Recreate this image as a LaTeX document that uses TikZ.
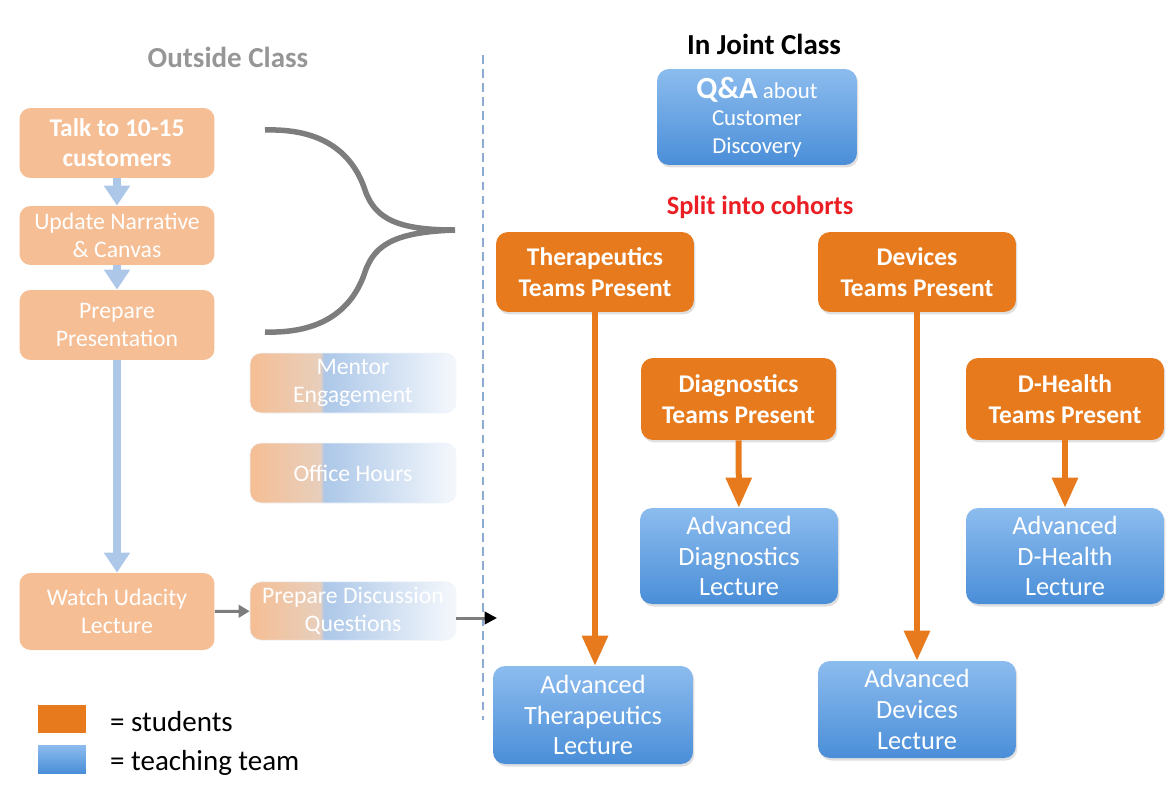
\documentclass[tikz,border=0pt]{standalone}
\usepackage{fontspec}
\setmainfont{Carlito}
\usetikzlibrary{arrows.meta,shadows}

\definecolor{stuorange}{RGB}{230,122,28}
\definecolor{paleorange}{RGB}{245,190,148}
\definecolor{teamtop}{RGB}{140,188,238}
\definecolor{teambot}{RGB}{74,142,216}
\definecolor{paleblue}{RGB}{172,199,232}
\definecolor{curvegray}{RGB}{125,125,125}
\definecolor{dashblue}{RGB}{140,170,210}
\definecolor{titlegray}{RGB}{150,150,150}
\definecolor{splitred}{RGB}{235,30,35}

\pgfdeclarehorizontalshading{mixshade}{100bp}{color(0bp)=(paleorange); color(25bp)=(paleorange); color(42bp)=(paleorange!75!gray!60); color(43bp)=(paleblue); color(75bp)=(white!88!paleblue); color(100bp)=(white!88!paleblue)}

\tikzset{
  stud/.style={rounded corners=0.24cm, fill=stuorange, text=white, align=center,
    font=\fontsize{14.5}{18}\selectfont\bfseries,
    drop shadow={opacity=0.25, shadow xshift=0.03cm, shadow yshift=-0.05cm}},
  team/.style={rounded corners=0.24cm, top color=teamtop, bottom color=teambot, text=white, align=center,
    font=\fontsize{15}{17.6}\selectfont,
    drop shadow={opacity=0.25, shadow xshift=0.03cm, shadow yshift=-0.05cm}},
  pale/.style={rounded corners=0.22cm, fill=paleorange, text=white, align=center,
    font=\fontsize{13.5}{16}\selectfont},
  mixbox/.style={rounded corners=0.22cm, shading=mixshade, draw=white!80!paleblue, text=white, align=center,
    font=\fontsize{13.5}{15.5}\selectfont},
  bluestep/.style={draw=paleblue, line width=0.16cm, -{Triangle[width=0.5cm, length=0.4cm]}},
  orangestep/.style={draw=stuorange, line width=0.12cm, -{Triangle[width=0.5cm, length=0.6cm]}},
  graystep/.style={draw=curvegray, line width=0.06cm, -{Triangle[width=0.25cm, length=0.22cm]}}
}

\begin{document}
\begin{tikzpicture}[x=0.02cm, y=-0.02cm]
  \useasboundingbox (0,0) rectangle (1166,798);

  % Titles
  \node[text=titlegray, font=\fontsize{16.5}{18}\selectfont\bfseries] (outside) at (228,57) {Outside Class};
  \node[font=\fontsize{16.5}{18}\selectfont\bfseries] (joint) at (764,44) {In Joint Class};
  \node[text=splitred, font=\fontsize{15}{18}\selectfont\bfseries] (split) at (760,207) {Split into cohorts};

  % Divider
  \draw[dashblue, line width=1.5pt, dash pattern=on 5pt off 3pt] (483,55) -- (483,720);

  % Outside class steps
  \node[pale, minimum width=3.9cm, minimum height=1.4cm, font=\fontsize{14.5}{17}\selectfont\bfseries] (talk) at (117,143) {Talk to 10-15\\customers};
  \node[pale, minimum width=3.9cm, minimum height=1.18cm] (update) at (117,235.5) {Update Narrative\\\& Canvas};
  \node[pale, minimum width=3.9cm, minimum height=1.4cm] (prep) at (117,325) {Prepare\\Presentation};
  \node[pale, minimum width=3.9cm, minimum height=1.54cm] (watch) at (117,611.5) {Watch Udacity\\Lecture};

  \node[mixbox, minimum width=4.12cm, minimum height=1.2cm] (mentor) at (353,383) {Mentor\\Engagement};
  \node[mixbox, minimum width=4.12cm, minimum height=1.2cm] (office) at (353,473) {Office Hours};
  \node[mixbox, minimum width=4.12cm, minimum height=1.16cm] (disc) at (353,611) {Prepare Discussion\\Questions};

  \draw[bluestep] (talk) -- (update);
  \draw[bluestep] (update) -- (prep);
  \draw[bluestep] (prep) -- (watch);
  \draw[graystep] (watch) -- (disc);
  \coordinate (into) at (497,618);
  \draw[graystep, -{Triangle[width=0.25cm, length=0.25cm, color=black]}] (disc.east |- into) -- (into);

  % Merge curve
  \coordinate (ctop) at (265,130);
  \coordinate (tip) at (455,230);
  \coordinate (cbot) at (265,332);
  \draw[curvegray, line width=0.11cm] (ctop) .. controls (330,128) and (355,160) .. (365,190)
    .. controls (375,220) and (400,230) .. (tip)
    .. controls (400,232) and (375,242) .. (365,272)
    .. controls (355,302) and (330,334) .. (cbot);

  % In joint class
  \node[team, minimum width=4cm, minimum height=1.92cm, font=\fontsize{13}{15.5}\selectfont] (qa) at (757,117)
    {{\fontsize{17.5}{18}\selectfont\bfseries Q\&A} about\\Customer\\Discovery};

  \node[stud, minimum width=3.96cm, minimum height=1.6cm] (ther) at (595,272) {Therapeutics\\Teams Present};
  \node[stud, minimum width=3.96cm, minimum height=1.6cm] (dev) at (917,272) {Devices\\Teams Present};
  \node[stud, minimum width=3.9cm, minimum height=1.64cm] (diag) at (738.5,399) {Diagnostics\\Teams Present};
  \node[stud, minimum width=3.96cm, minimum height=1.64cm] (dh) at (1065,399) {D-Health\\Teams Present};

  \node[team, minimum width=3.96cm, minimum height=1.92cm] (advdiag) at (739,556) {Advanced\\Diagnostics\\Lecture};
  \node[team, minimum width=3.96cm, minimum height=1.92cm] (advdh) at (1065,556) {Advanced\\D-Health\\Lecture};
  \node[team, minimum width=4cm, minimum height=1.96cm] (advther) at (593,715) {Advanced\\Therapeutics\\Lecture};
  \node[team, minimum width=3.96cm, minimum height=1.94cm] (advdev) at (917,709.5) {Advanced\\Devices\\Lecture};

  \draw[orangestep] (ther.south) -- (ther.south |- advther.north);
  \draw[orangestep] (dev) -- (advdev);
  \draw[orangestep] (diag) -- (advdiag);
  \draw[orangestep] (dh) -- (advdh);

  % Legend
  \node[fill=stuorange, minimum width=0.96cm, minimum height=0.56cm, inner sep=0pt] (keystud) at (62,719) {};
  \node[top color=teamtop, bottom color=teambot, minimum width=0.96cm, minimum height=0.56cm, inner sep=0pt] (keyteam) at (62,759) {};
  \node[anchor=west, font=\fontsize{16.5}{18}\selectfont] (keystudtxt) at (104,722) {= students};
  \node[anchor=west, font=\fontsize{16.5}{18}\selectfont] (keyteamtxt) at (104,763) {= teaching team};
\end{tikzpicture}
\end{document}
